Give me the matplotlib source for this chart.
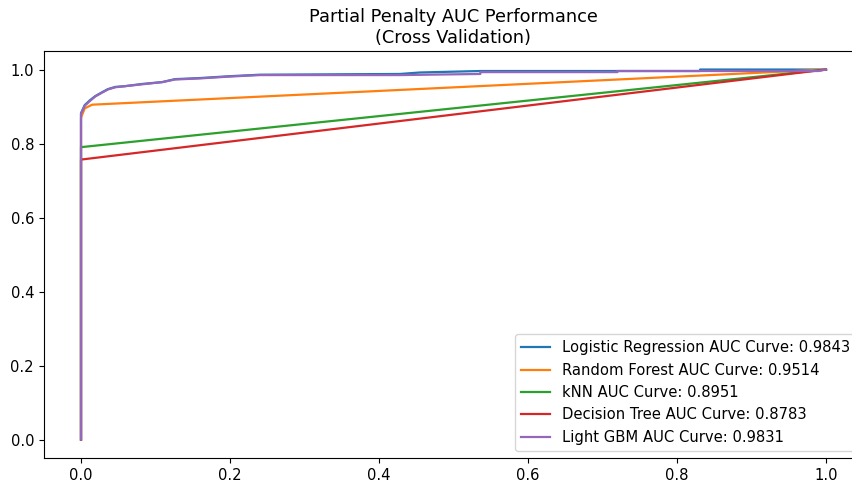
import matplotlib
matplotlib.use("Agg")
import matplotlib.pyplot as plt

# ROC points (false positive rate, true positive rate)
lr_fpr = [0.0, 0.0, 0.005, 0.012, 0.019, 0.026, 0.036, 0.046, 0.059, 0.082, 0.109, 0.126,
          0.16, 0.2, 0.24, 0.428, 0.455, 0.536, 0.831, 0.831, 1.0]
lr_tpr = [0.0, 0.882, 0.904, 0.917, 0.928, 0.936, 0.947, 0.953, 0.955, 0.961, 0.966, 0.974,
          0.977, 0.982, 0.986, 0.988, 0.992, 0.996, 0.996, 1.0, 1.0]

rf_fpr = [0.0, 0.0, 0.005, 0.015, 1.0]
rf_tpr = [0.0, 0.87, 0.895, 0.905, 1.0]

knn_fpr = [0.0, 0.0, 1.0]
knn_tpr = [0.0, 0.7902, 1.0]

dt_fpr = [0.0, 0.0, 1.0]
dt_tpr = [0.0, 0.7566, 1.0]

lgbm_fpr = [0.0, 0.0, 0.005, 0.012, 0.019, 0.026, 0.036, 0.046, 0.059, 0.082, 0.109, 0.126,
            0.16, 0.2, 0.24, 0.428, 0.536, 0.536, 0.72, 0.72, 0.99, 1.0]
lgbm_tpr = [0.0, 0.880, 0.902, 0.915, 0.927, 0.935, 0.946, 0.952, 0.955, 0.960, 0.966, 0.973,
            0.976, 0.981, 0.985, 0.985, 0.988, 0.993, 0.993, 0.996, 0.996, 1.0]

labels = [
    "Logistic Regression AUC Curve: 0.9843",
    "Random Forest AUC Curve: 0.9514",
    "kNN AUC Curve: 0.8951",
    "Decision Tree AUC Curve: 0.8783",
    "Light GBM AUC Curve: 0.9831",
]

plt.rcParams["font.size"] = 10.6
plt.rcParams["axes.titlesize"] = 12.75

fig = plt.figure(figsize=(8.53, 4.86), dpi=100)
# axes runs a little past the right edge, as in the cropped reference
ax = fig.add_axes([0.0513, 0.0576, 0.9607, 0.8374])

curves = [(lr_fpr, lr_tpr), (rf_fpr, rf_tpr), (knn_fpr, knn_tpr),
          (dt_fpr, dt_tpr), (lgbm_fpr, lgbm_tpr)]
for (fpr, tpr), label in zip(curves, labels):
    ax.plot(fpr, tpr, label=label, linewidth=1.6)

ax.set_title("Partial Penalty AUC Performance\n(Cross Validation)")
ax.legend(loc="lower right")

fig.savefig("out.png", dpi=100)
